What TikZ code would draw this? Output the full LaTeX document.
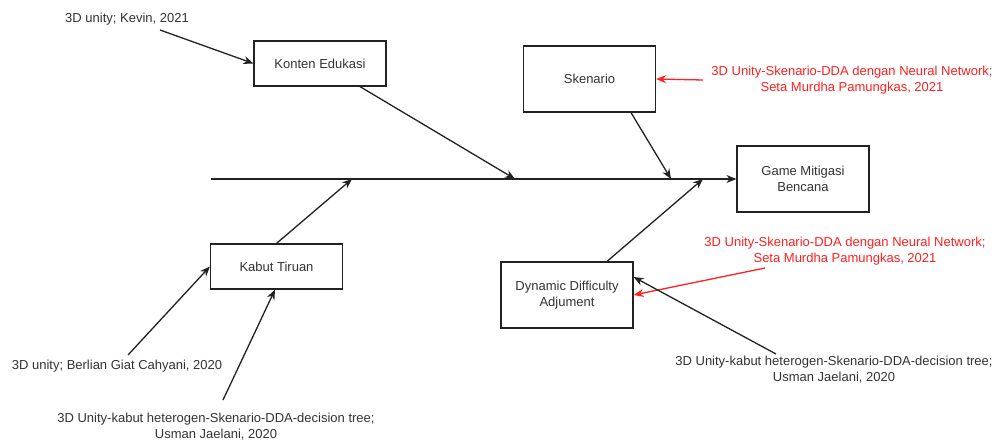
\documentclass[tikz,border=0pt]{standalone}
\usepackage{fontspec}
\setmainfont{Liberation Sans}
\usetikzlibrary{arrows.meta}
\definecolor{ink}{HTML}{222222}
\definecolor{txt}{HTML}{333333}
\definecolor{refred}{HTML}{FF2020}
\tikzset{
  box/.style={draw=ink, line width=1.2pt, rectangle, minimum width=132pt, align=center, text=txt, inner sep=0pt},
  lbl/.style={align=center, text=txt, inner sep=0pt},
  redlbl/.style={lbl, text=refred},
  link/.style={draw=ink, line width=1.3pt, -{Stealth[length=10pt,width=8pt]}},
  redlink/.style={link, draw=refred}
}
\begin{document}
\begin{tikzpicture}[x=1pt, y=-1pt, font=\fontsize{13}{16}\selectfont]
\useasboundingbox (0,0) rectangle (998,441);
\fill[white] (0,0) rectangle (998,441);

% cause boxes and effect box
\node[box, minimum height=45pt]  (konten) at (320,63.5)  {Konten Edukasi};
\node[box, minimum height=66pt]  (skenario) at (589.5,79) {Skenario};
\node[box, minimum height=66pt]  (game) at (803,179)     {Game Mitigasi\\Bencana};
\node[box, minimum height=45pt]  (kabut) at (276.5,266.5) {Kabut Tiruan};
\node[box, minimum height=66pt]  (dda) at (567,295)       {Dynamic Difficulty\\Adjument};

% reference labels
\node[lbl] (kevin) at (127,19) {3D unity; Kevin, 2021};
\node[redlbl] (seta1) at (852,80) {3D Unity-Skenario-DDA dengan Neural Network;\\Seta Murdha Pamungkas, 2021};
\node[lbl] (berlian) at (117,366) {3D unity; Berlian Giat Cahyani, 2020};
\node[lbl] (usman1) at (216,427) {3D Unity-kabut heterogen-Skenario-DDA-decision tree;\\Usman Jaelani, 2020};
\node[redlbl] (seta2) at (845,251) {3D Unity-Skenario-DDA dengan Neural Network;\\Seta Murdha Pamungkas, 2021};
\node[lbl] (usman2) at (834,370) {3D Unity-kabut heterogen-Skenario-DDA-decision tree;\\Usman Jaelani, 2020};

% spine and its joints
\coordinate (s0) at (211,179);
\coordinate (jk) at (515,179);
\coordinate (js) at (671,179);
\coordinate (jt) at (352,179);
\coordinate (jd) at (703,179);
\draw[link] (s0) -- (game.west);

% branches onto the spine
\draw[link] ([xshift=40pt]konten.south) -- (jk);
\draw[link] ([xshift=41.5pt]skenario.south) -- (js);
\draw[link] (kabut.north) -- (jt);
\draw[link] ([xshift=40pt]dda.north) -- (jd);

% references onto the boxes
\coordinate (kv) at (160,30);
\coordinate (st1) at (703,80);
\coordinate (bg) at (128,355);
\coordinate (uj1) at (223,400);
\coordinate (st2) at (765,268);
\coordinate (uj2) at (776,354);
\draw[link] (kv) -- (konten.west);
\draw[redlink] (st1) -- (skenario.east);
\draw[link] (bg) -- (kabut.west);
\draw[link] (uj1) -- ([xshift=-1.5pt]kabut.south);
\draw[redlink] (st2) -- (dda.east);
\draw[link] (uj2) -- ([yshift=18pt]dda.east);
\end{tikzpicture}
\end{document}
